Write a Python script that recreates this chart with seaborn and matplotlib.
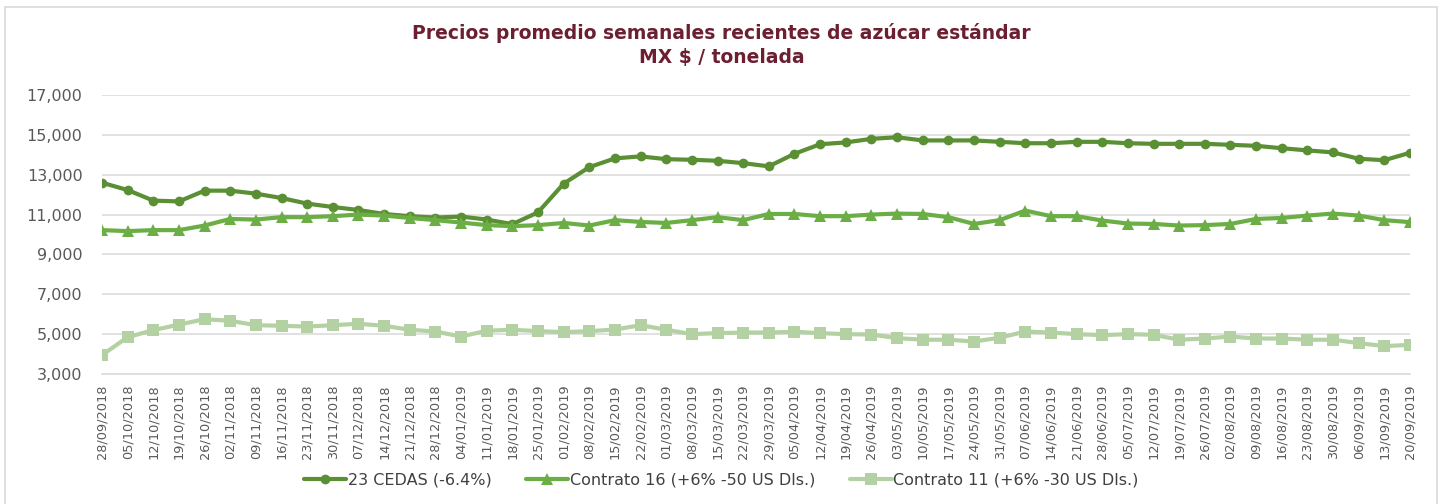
import numpy as np
import pandas as pd
import seaborn as sns
import matplotlib.pyplot as plt
from matplotlib.lines import Line2D
from matplotlib.patches import Rectangle
from matplotlib.ticker import FuncFormatter

# Weekly dates (tick labels)
fechas = ['28/09/2018', '05/10/2018', '12/10/2018', '19/10/2018', '26/10/2018',
          '02/11/2018', '09/11/2018', '16/11/2018', '23/11/2018', '30/11/2018',
          '07/12/2018', '14/12/2018', '21/12/2018', '28/12/2018', '04/01/2019',
          '11/01/2019', '18/01/2019', '25/01/2019', '01/02/2019', '08/02/2019',
          '15/02/2019', '22/02/2019', '01/03/2019', '08/03/2019', '15/03/2019',
          '22/03/2019', '29/03/2019', '05/04/2019', '12/04/2019', '19/04/2019',
          '26/04/2019', '03/05/2019', '10/05/2019', '17/05/2019', '24/05/2019',
          '31/05/2019', '07/06/2019', '14/06/2019', '21/06/2019', '28/06/2019',
          '05/07/2019', '12/07/2019', '19/07/2019', '26/07/2019', '02/08/2019',
          '09/08/2019', '16/08/2019', '23/08/2019', '30/08/2019', '06/09/2019',
          '13/09/2019', '20/09/2019']

# MX $ / tonelada
cedas = [12600, 12230, 11700, 11660, 12200, 12200, 12050, 11830, 11550, 11380,
         11230, 11030, 10920, 10850, 10900, 10750, 10520, 11110, 12550, 13380,
         13820, 13920, 13780, 13750, 13700, 13580, 13420, 14050, 14530, 14620,
         14800, 14880, 14720, 14720, 14720, 14650, 14580, 14580, 14650, 14650,
         14580, 14550, 14550, 14550, 14500, 14450, 14330, 14220, 14120, 13800,
         13730, 14100]

contrato16 = [10220, 10170, 10220, 10220, 10450, 10780, 10750, 10870, 10870, 10920,
              11000, 10950, 10830, 10720, 10600, 10470, 10420, 10470, 10580, 10450,
              10720, 10630, 10580, 10720, 10870, 10720, 11030, 11030, 10920, 10920,
              11000, 11050, 11030, 10870, 10530, 10720, 11200, 10920, 10920, 10700,
              10550, 10530, 10450, 10470, 10530, 10780, 10830, 10950, 11050, 10950,
              10720, 10620]

contrato11 = [3950, 4850, 5200, 5480, 5750, 5670, 5450, 5420, 5380, 5450,
              5520, 5420, 5220, 5130, 4880, 5170, 5220, 5150, 5100, 5150,
              5230, 5450, 5220, 5000, 5050, 5080, 5080, 5120, 5050, 5000,
              4980, 4800, 4720, 4720, 4630, 4820, 5130, 5080, 5000, 4950,
              5000, 4970, 4720, 4780, 4880, 4780, 4780, 4720, 4720, 4550,
              4400, 4460]

series = ['23 CEDAS (-6.4%)', 'Contrato 16 (+6% -50 US Dls.)', 'Contrato 11 (+6% -30 US Dls.)']
colores = ['#5a8f34', '#6aae45', '#b3d1a2']
marcadores = ['o', '^', 's']
tamanos = [7, 8, 8.5]

df = pd.DataFrame({'fecha': fechas, series[0]: cedas, series[1]: contrato16, series[2]: contrato11})
df['pos'] = np.arange(len(fechas))

sns.set_style('white')
plt.rcParams['font.family'] = ['DejaVu Sans']

fig = plt.figure(figsize=(14.43, 5.04), dpi=100)
ax = fig.add_axes([102 / 1443, 1 - 374 / 504, (1410 - 102) / 1443, (374 - 95) / 504])

for nombre, c, m, ms in zip(series, colores, marcadores, tamanos):
    sns.lineplot(data=df, x='pos', y=nombre, ax=ax, color=c, marker=m, markersize=ms,
                 markeredgewidth=0, linewidth=3, sort=False, label=None, legend=False)

ax.set_xlim(0, len(fechas) - 1)
ax.set_ylim(3000, 17000)
ax.set_yticks(np.arange(3000, 17001, 2000))
ax.yaxis.set_major_formatter(FuncFormatter(lambda v, p: '{:,.0f}'.format(v)))
ax.set_xticks(df['pos'])
ax.set_xticklabels(fechas, rotation=90)
ax.set_xlabel('')
ax.set_ylabel('')

ax.grid(axis='y', color='#dcdcdc', linewidth=1.2)
for s in ['top', 'right', 'left']:
    ax.spines[s].set_visible(False)
ax.spines['bottom'].set_color('#dcdcdc')
ax.spines['bottom'].set_linewidth(1.2)
ax.tick_params(axis='x', direction='inout', length=7, color='#dcdcdc', width=1,
               labelsize=9.3, labelcolor='#595959', pad=4)
ax.tick_params(axis='y', length=0, labelsize=11.5, labelcolor='#595959', pad=14)

fig.text(0.5, 1 - 33 / 504, 'Precios promedio semanales recientes de azúcar estándar',
         ha='center', va='center', fontsize=13.5, fontweight='bold', color='#6b1f31')
fig.text(0.5, 1 - 58 / 504, 'MX $ / tonelada',
         ha='center', va='center', fontsize=13.5, fontweight='bold', color='#6b1f31')

handles = [Line2D([0], [0], color=c, marker=m, markersize=ms, markeredgewidth=0, linewidth=3)
           for c, m, ms in zip(colores, marcadores, tamanos)]
fig.legend(handles, series, loc='center', bbox_to_anchor=(0.5, 1 - 480 / 504), ncol=3,
           frameon=False, fontsize=11.5, handlelength=2.6, handletextpad=0.1, columnspacing=2.2,
           labelcolor='#404040')

# chart area border
fig.patches.append(Rectangle((5 / 1443, -0.05), 1432 / 1443, 1 - 7 / 504 + 0.05,
                             transform=fig.transFigure, fill=False, edgecolor='#d9d9d9',
                             linewidth=1.2))

fig.savefig('out.png', dpi=100)
